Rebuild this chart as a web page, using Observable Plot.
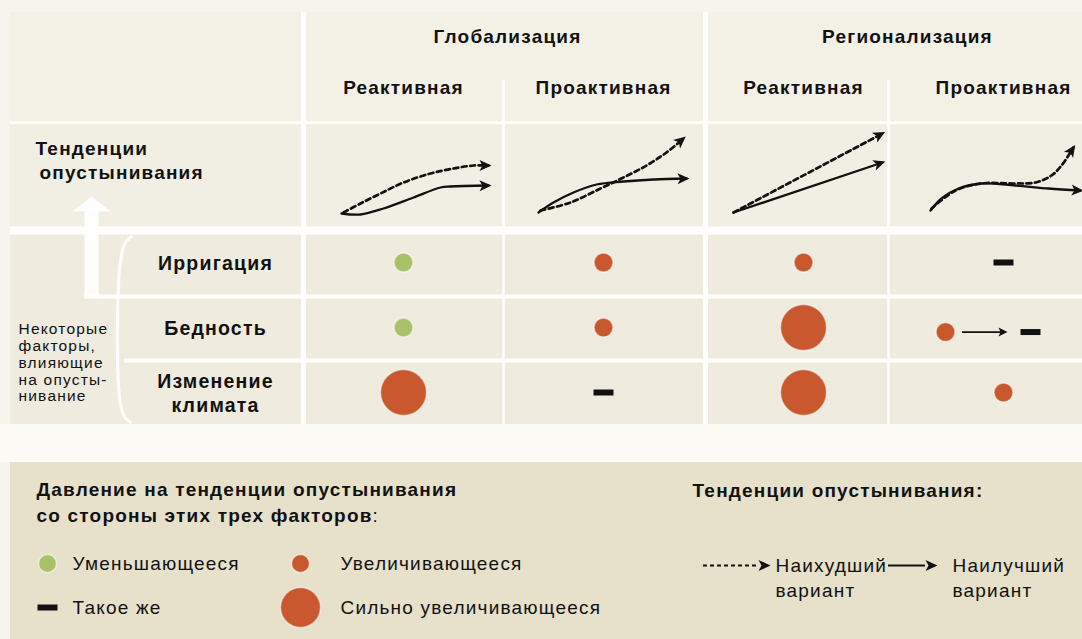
<!DOCTYPE html>
<html><head><meta charset="utf-8">
<script src="https://cdn.jsdelivr.net/npm/d3@7"></script>
<script src="https://cdn.jsdelivr.net/npm/@observablehq/plot@0.6"></script>
<style>
html,body{margin:0;padding:0;background:#f6f4ec;}
#chart{width:1082px;height:639px;overflow:hidden;}
#chart svg text{letter-spacing:1.2px;}
</style></head><body><div id="chart"></div>
<script>
// ---------------- data ----------------
const groups = ["Глобализация", "Регионализация"];
const scenarios = ["Реактивная", "Проактивная", "Реактивная", "Проактивная"];
const factors = ["Ирригация", "Бедность", "Изменение климата"];
const trendLabel = ["Тенденции", "опустынивания"];
const sideNote = ["Некоторые", "факторы,", "влияющие", "на опусты-", "нивание"];
// pressure of each factor per scenario: down = decreasing, up = increasing,
// upup = strongly increasing, same = unchanged, up>same = increasing then unchanged
const irrigation = ["down", "up", "up", "same"];
const poverty    = ["down", "up", "upup", "up>same"];
const climate    = ["upup", "same", "upup", "up"];
// desertification trend per scenario: [position within the scenario period 0..1, level 0..1]
const bestTrend = [
  [[0.19,0.025],[0.285,0.0125],[0.40,0.0875],[0.55,0.225],[0.685,0.35],[0.735,0.3625],[0.925,0.375]],
  [[0.175,0.0375],[0.25,0.1625],[0.35,0.2875],[0.465,0.3875],[0.6,0.425],[0.75,0.45],[0.915,0.4625]],
  [[0.15,0.0375],[0.895,0.6625]],
  [[0.135,0.0625],[0.19,0.2125],[0.275,0.3375],[0.39,0.4],[0.56,0.375],[0.725,0.3375],[0.885,0.3125]]
];
const worstTrend = [
  [[0.2,0.0375],[0.285,0.15],[0.385,0.275],[0.5,0.4125],[0.635,0.525],[0.75,0.5875],[0.85,0.625],[0.925,0.625]],
  [[0.185,0.0625],[0.335,0.1625],[0.485,0.3375],[0.6,0.475],[0.715,0.625],[0.815,0.7875],[0.9,0.9625]],
  [[0.15,0.0375],[0.895,1.025]],
  [[0.14,0.0875],[0.26,0.3125],[0.39,0.4],[0.56,0.4],[0.66,0.4125],[0.74,0.5],[0.79,0.625],[0.85,0.85]]
];
const legendTitle = ["Давление на тенденции опустынивания", "со стороны этих трех факторов"];
const trendLegendTitle = "Тенденции опустынивания:";
const pressureLegend = [
  {code: "down", label: "Уменьшающееся"},
  {code: "up", label: "Увеличивающееся"},
  {code: "same", label: "Такое же"},
  {code: "upup", label: "Сильно увеличивающееся"}
];
const trendLegend = [
  {kind: "worst", label: "Наихудший\nвариант"},
  {kind: "best", label: "Наилучший\nвариант"}
];

// ---------------- layout ----------------
const COL = {green: "#a9c267", orange: "#c9582f", ink: "#111111",
  page: "#f6f4ec", panel: "#efecdf", header: "#f3f1e6", trend: "#f1eee3",
  gap: "#fbfaf5", legend: "#e7e1cc"};
const FONT = "'Liberation Sans', Arial, Helvetica, sans-serif";
const LS = 1.2;
const XD = [-1.5, 4], XR = [3, 1103];
const xs = d3.scaleLinear().domain(XD).range(XR);
const ROW = 65, ROW0 = 262;
const YD = [-ROW0 / ROW, (639 - ROW0) / ROW];
const ys = d3.scaleLinear().domain(YD).range([0, 639]);
const X = p => xs.invert(p), Y = p => ys.invert(p);
const TY = v => Y(215 - v * 80);

const head = {draw(ctx) { ctx.moveTo(0, -3); ctx.lineTo(5.5, 9); ctx.lineTo(0, 6); ctx.lineTo(-5.5, 9); ctx.closePath(); }};
const smallHead = {draw(ctx) { ctx.moveTo(0, -1); ctx.lineTo(4.5, 8); ctx.lineTo(0, 6); ctx.lineTo(-4.5, 8); ctx.closePath(); }};
const bigHead = {draw(ctx) { ctx.moveTo(0, 0); ctx.lineTo(19, 15); ctx.lineTo(-19, 15); ctx.closePath(); }};
const dash = {draw(ctx) { ctx.rect(-10, -3, 20, 6); }};
const angle = (a, b) => Math.atan2(xs(b.x) - xs(a.x), -(ys(b.y) - ys(a.y))) * 180 / Math.PI;

// matrix cells
const pressure = [irrigation, poverty, climate];
const cells = pressure.flatMap((row, r) => row.map((code, c) => ({r, c, code})));
const dotColor = code => code === "down" ? COL.green : COL.orange;
const smallDots = [], bigDots = [], dashes = [], miniArrows = [], miniHeads = [];
cells.forEach(d => {
  if (d.code === "down" || d.code === "up") smallDots.push({x: d.c + 0.5, y: d.r, fill: dotColor(d.code)});
  else if (d.code === "upup") bigDots.push({x: d.c + 0.5, y: d.r, fill: COL.orange});
  else if (d.code === "same") dashes.push({x: d.c + 0.5, y: d.r});
  else if (d.code === "up>same") {
    const yy = d.r + 0.07;
    smallDots.push({x: d.c + 0.21, y: yy, fill: COL.orange});
    miniArrows.push({x1: d.c + 0.295, x2: d.c + 0.5, y: yy});
    miniHeads.push({x: d.c + 0.515, y: yy, a: 90});
    dashes.push({x: d.c + 0.635, y: yy});
  }
});

// trend curves
const trendPts = kind => scenarios.flatMap((s, c) =>
  (kind === "best" ? bestTrend : worstTrend)[c].map(([t, v]) => ({c, x: c + t, y: TY(v)})));
const best = trendPts("best"), worst = trendPts("worst");
const heads = [bestTrend, worstTrend].flatMap(series => series.map((pts, c) => {
  const a = {x: c + pts[pts.length - 2][0], y: TY(pts[pts.length - 2][1])};
  const b = {x: c + pts[pts.length - 1][0], y: TY(pts[pts.length - 1][1])};
  return {x: b.x, y: b.y, a: angle(a, b)};
}));

// legend
const legCol = {sym: [X(47), X(300)], text: [X(72), X(340)]};
const legRow = [Y(563), Y(607)];
const legItems = pressureLegend.map((d, i) => ({...d, col: i % 2, row: Math.floor(i / 2)}));
const legSym = legItems.map(d => ({x: legCol.sym[d.col], y: legRow[d.row], code: d.code}));
const legText = legItems.map(d => ({x: legCol.text[d.col], y: legRow[d.row], text: d.label}));
const tl = {start: [X(703), X(888)], end: [X(757), X(925)], head: [X(767), X(934)], text: [X(775), X(952)], y: Y(565)};

const cv = document.createElement("canvas").getContext("2d");
cv.font = "bold 19px " + FONT;
const titleW = cv.measureText(legendTitle[1]).width + legendTitle[1].length * LS;

const bgRects = [
  {x1: X(0), x2: X(1082), y1: Y(424), y2: Y(462), fill: COL.gap},
  {x1: X(10), x2: 4, y1: Y(12), y2: Y(424), fill: COL.panel},
  {x1: X(10), x2: 4, y1: Y(12), y2: Y(122), fill: COL.header},
  {x1: X(10), x2: 4, y1: Y(122), y2: Y(230), fill: COL.trend},
  {x1: X(10), x2: 4, y1: Y(462), y2: Y(650), fill: COL.legend}
];

const chart = Plot.plot({
  width: 1082, height: 639, margin: 0,
  x: {domain: XD, range: XR, axis: null},
  y: {domain: YD, range: [0, 639], axis: null},
  color: {type: "identity"},
  style: {fontFamily: FONT, background: COL.page, color: COL.ink, overflow: "hidden"},
  marks: [
    Plot.rect(bgRects, {x1: "x1", x2: "x2", y1: "y1", y2: "y2", fill: "fill"}),
    // white grid
    Plot.ruleY([Y(122)], {x1: X(10), x2: 4, stroke: "white", strokeWidth: 3}),
    Plot.ruleY([Y(230)], {x1: X(10), x2: 4, stroke: "white", strokeWidth: 8}),
    Plot.ruleY([Y(296)], {x1: X(84), x2: 4, stroke: "white", strokeWidth: 4}),
    Plot.ruleY([Y(360)], {x1: X(124), x2: 4, stroke: "white", strokeWidth: 4}),
    Plot.ruleX([0, X(705)], {y1: Y(12), y2: Y(424), stroke: "white", strokeWidth: 5}),
    Plot.ruleX([1, X(888)], {y1: Y(80), y2: Y(424), stroke: "white", strokeWidth: 2.5}),
    // white arrow and bracket
    Plot.ruleX([X(91)], {y1: Y(298), y2: Y(208), stroke: "white", strokeWidth: 14, strokeOpacity: 0.9}),
    Plot.dot([{x: X(91), y: Y(196)}], {x: "x", y: "y", symbol: bigHead, fill: "white", fillOpacity: 0.9, stroke: "none"}),
    Plot.line([[X(131), Y(236)], [X(123), Y(246)], [X(122), Y(412)], [X(130), Y(422)]],
      {curve: "catmull-rom", stroke: "white", strokeWidth: 3, strokeOpacity: 0.9}),
    // headers
    Plot.text(groups, {x: (d, i) => 2 * i + 1.02, y: Y(36), text: d => d, fontWeight: "bold", fontSize: 19}),
    Plot.text(scenarios, {x: (d, i) => i + 0.5, y: Y(87), text: d => d, fontWeight: "bold", fontSize: 19}),
    Plot.text(trendLabel, {x: (d, i) => X(35 + 4 * i), y: (d, i) => Y(148 + 24 * i), text: d => d,
      textAnchor: "start", fontWeight: "bold", fontSize: 19}),
    Plot.text(factors, {x: X(215), y: (d, i) => i, text: d => d.replace(" ", "\n"),
      fontWeight: "bold", fontSize: 19.5, lineHeight: 1.24}),
    Plot.text([sideNote.join("\n")], {x: X(18), y: Y(362), text: d => d, textAnchor: "start",
      fontSize: 15.5, lineHeight: 1.08}),
    // trend curves
    Plot.line(best, {x: "x", y: "y", z: "c", curve: "catmull-rom", stroke: COL.ink, strokeWidth: 2.3}),
    Plot.line(worst, {x: "x", y: "y", z: "c", curve: "catmull-rom", stroke: COL.ink, strokeWidth: 2.7,
      strokeDasharray: "5,3.5"}),
    Plot.dot(heads, {x: "x", y: "y", rotate: "a", symbol: head, fill: COL.ink, stroke: "none"}),
    // pressure matrix
    Plot.dot(smallDots, {x: "x", y: "y", r: 9.5, fill: "fill", stroke: "white", strokeOpacity: 0.5}),
    Plot.dot(bigDots, {x: "x", y: "y", r: 23, fill: "fill", stroke: "white", strokeOpacity: 0.5}),
    Plot.dot(dashes, {x: "x", y: "y", symbol: dash, fill: COL.ink, stroke: "none"}),
    Plot.ruleY(miniArrows, {x1: "x1", x2: "x2", y: "y", stroke: COL.ink, strokeWidth: 1.8}),
    Plot.dot(miniHeads, {x: "x", y: "y", rotate: "a", symbol: smallHead, fill: COL.ink, stroke: "none"}),
    // legend
    Plot.text(legendTitle, {x: X(36), y: (d, i) => Y(489 + 26 * i), text: d => d, textAnchor: "start",
      fontWeight: "bold", fontSize: 19}),
    Plot.text([":"], {x: X(36 + titleW), y: Y(515), text: d => d, textAnchor: "start", fontSize: 19}),
    Plot.text([trendLegendTitle], {x: X(692), y: Y(490), text: d => d, textAnchor: "start",
      fontWeight: "bold", fontSize: 19}),
    Plot.dot(legSym.filter(d => d.code === "down" || d.code === "up"),
      {x: "x", y: "y", r: 9, fill: d => dotColor(d.code), stroke: "white", strokeOpacity: 0.5}),
    Plot.dot(legSym.filter(d => d.code === "upup"), {x: "x", y: "y", r: 20, fill: COL.orange, stroke: "white", strokeOpacity: 0.5}),
    Plot.dot(legSym.filter(d => d.code === "same"), {x: "x", y: "y", symbol: dash, fill: COL.ink, stroke: "none"}),
    Plot.text(legText, {x: "x", y: "y", text: "text", textAnchor: "start", fontSize: 19}),
    Plot.ruleY(trendLegend.filter(d => d.kind === "worst"), {x1: tl.start[0], x2: tl.end[0], y: tl.y,
      stroke: COL.ink, strokeWidth: 2.2, strokeDasharray: "4,3"}),
    Plot.ruleY(trendLegend.filter(d => d.kind === "best"), {x1: tl.start[1], x2: tl.end[1], y: tl.y,
      stroke: COL.ink, strokeWidth: 2.2}),
    Plot.dot(trendLegend, {x: (d, i) => tl.head[i], y: tl.y, rotate: 90,
      symbol: head, fill: COL.ink, stroke: "none"}),
    Plot.text(trendLegend, {x: (d, i) => tl.text[i], y: tl.y, text: "label", textAnchor: "start",
      lineAnchor: "top", dy: -11, fontSize: 19, lineHeight: 1.32})
  ]
});
document.getElementById("chart").appendChild(chart);
</script>
</body></html>
